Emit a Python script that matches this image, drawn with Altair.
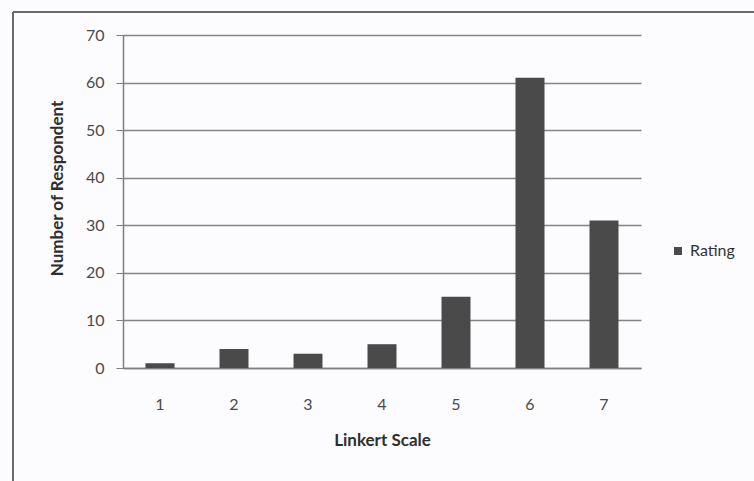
import altair as alt
import pandas as pd

# Likert-scale responses
scale_points = ["1", "2", "3", "4", "5", "6", "7"]
respondents = [1, 4, 3, 5, 15, 61, 31]
series_name = ["Rating"] * len(scale_points)

df = pd.DataFrame({"scale": scale_points, "count": respondents, "series": series_name})

FONT = "Lato"
W, H = 518, 333

bars = alt.Chart(df).mark_bar(size=29).encode(
    x=alt.X(
        "scale:N",
        sort=scale_points,
        scale=alt.Scale(paddingInner=0, paddingOuter=0),
        axis=alt.Axis(
            title="Linkert Scale",
            labelAngle=0,
            ticks=False,
            labelPadding=28,
            labelFontSize=16,
            labelColor="#4a4a4a",
            labelFont=FONT,
            titleFont=FONT,
            titleFontSize=17,
            titleFontWeight="bold",
            titleColor="#2e2e2e",
            titlePadding=20,
            domainColor="#7f7f7f",
            domainWidth=1.5,
        ),
    ),
    y=alt.Y(
        "count:Q",
        scale=alt.Scale(domain=[0, 70], nice=False),
        axis=alt.Axis(
            title="Number of Respondent",
            values=[0, 10, 20, 30, 40, 50, 60, 70],
            tickSize=7,
            tickColor="#7f7f7f",
            labelPadding=12,
            labelFontSize=16,
            labelColor="#4a4a4a",
            labelFont=FONT,
            titleFont=FONT,
            titleFontSize=17,
            titleFontWeight="bold",
            titleColor="#2e2e2e",
            titlePadding=19,
            titleY=153,
            gridColor="#858585",
            gridWidth=1.6,
            domainColor="#7f7f7f",
            domainWidth=1.5,
        ),
    ),
    color=alt.Color(
        "series:N",
        scale=alt.Scale(range=["#4a4a4a"]),
        legend=alt.Legend(
            title=None,
            orient="none",
            legendX=547,
            legendY=208,
            symbolType="square",
            symbolSize=64,
            labelFont=FONT,
            labelFontSize=16,
            labelColor="#333333",
        ),
    ),
)

# outer chart frame (top and left edges)
frame_data = alt.Data(values=[{"edge": 0}])
frame_top = alt.Chart(frame_data).mark_rule(color="#6a6a6a", strokeWidth=2).encode(
    x=alt.value(-110), x2=alt.value(640), y=alt.value(-23)
)
frame_left = alt.Chart(frame_data).mark_rule(color="#6a6a6a", strokeWidth=2).encode(
    x=alt.value(-110), y=alt.value(-23), y2=alt.value(460)
)

chart = (
    alt.layer(frame_top, frame_left, bars)
    .properties(
        width=W,
        height=H,
        autosize=alt.AutoSizeParams(type="none"),
        padding={"left": 123, "top": 35, "right": 113, "bottom": 113},
        background="#fcfbfd",
    )
    .configure_view(stroke=None)
)

chart.save("out.html", embed_options={"renderer": "svg", "actions": False})
